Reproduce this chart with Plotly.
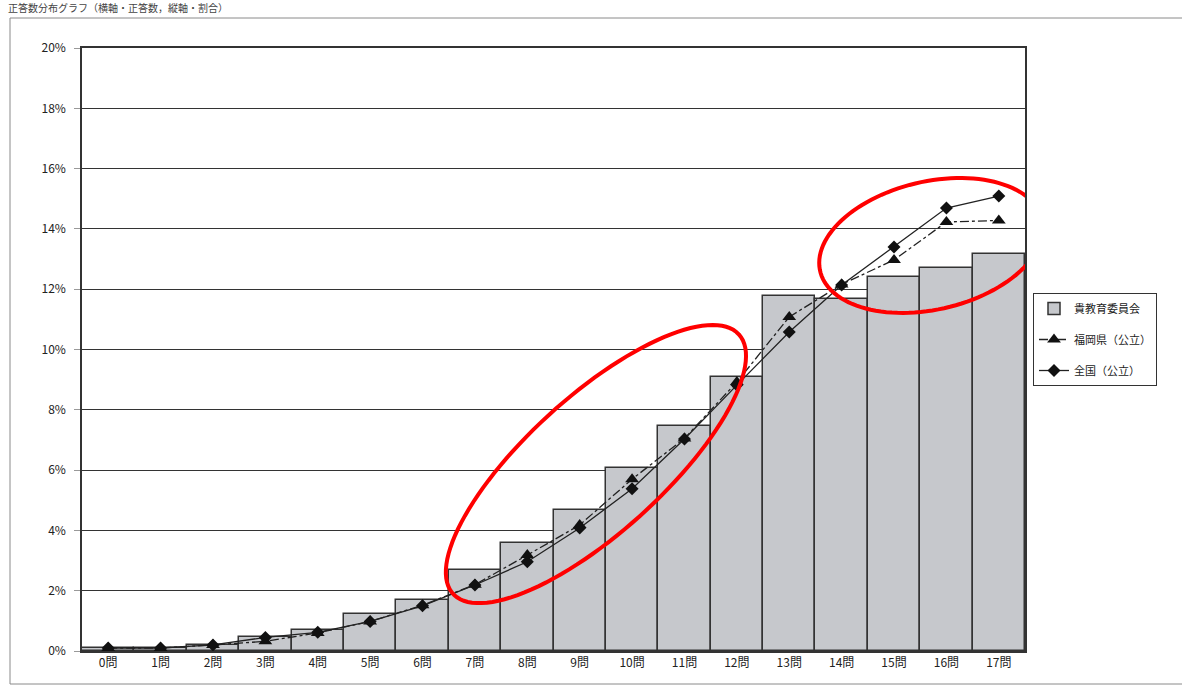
import numpy as np
import plotly.graph_objects as go

# Number of correct answers (0..17) and share of students (%)
questions = [f"{i}問" for i in range(18)]
board = [0.10, 0.10, 0.20, 0.46, 0.70, 1.23, 1.68, 2.69, 3.58, 4.68,
         6.07, 7.46, 9.09, 11.77, 11.67, 12.40, 12.70, 13.17]
fukuoka = [0.10, 0.10, 0.20, 0.32, 0.60, 0.98, 1.52, 2.20, 3.18, 4.18,
           5.70, 7.05, 8.92, 11.08, 12.16, 12.97, 14.23, 14.28]
national = [0.10, 0.10, 0.20, 0.45, 0.62, 0.98, 1.50, 2.19, 2.96, 4.08,
            5.38, 7.03, 8.82, 10.58, 12.14, 13.40, 14.69, 15.09]
y_ticks = list(range(0, 21, 2))
y_labels = [f"{v}%" for v in y_ticks]

W, H = 1182, 691
ML, MR, MT, MB = 82, 157, 48, 40
PW, PH = W - ML - MR, H - MT - MB
X_RANGE = (-0.5, 17.5)
Y_RANGE = (0, 20)
px_x = PW / (X_RANGE[1] - X_RANGE[0])
px_y = PH / (Y_RANGE[1] - Y_RANGE[0])

FONT = "Noto Sans CJK JP, Noto Sans, sans-serif"
INK = "#333333"
x = list(range(len(questions)))

fig = go.Figure()
fig.add_trace(go.Bar(
    x=x, y=board, name="貴教育委員会", legendgroup="a",
    marker=dict(color="#c6c8cc", line=dict(color=INK, width=1.5)),
))
fig.add_trace(go.Scatter(
    x=x, y=fukuoka, name="福岡県（公立）", legendgroup="b", mode="lines+markers",
    line=dict(color="#222222", width=1.3, dash="dashdot"),
    marker=dict(symbol="triangle-up", size=12, color="#111111"),
))
fig.add_trace(go.Scatter(
    x=x, y=national, name="全国（公立）", legendgroup="c", mode="lines+markers",
    line=dict(color="#222222", width=1.3),
    marker=dict(symbol="diamond", size=10, color="#111111"),
))


def ellipse_path(cx, cy, a_px, b_px, angle_deg, n=120):
    """Rotated ellipse drawn in screen space, returned in data units."""
    t = np.linspace(0, 2 * np.pi, n)
    th = np.radians(angle_deg)
    ex = a_px * np.cos(t)
    ey = b_px * np.sin(t)
    rx = ex * np.cos(th) - ey * np.sin(th)
    ry = ex * np.sin(th) + ey * np.cos(th)
    xs = cx + rx / px_x
    ys = cy + ry / px_y
    pts = [f"{xx:.4f},{yy:.4f}" for xx, yy in zip(xs, ys)]
    return "M " + " L ".join(pts) + " Z"


# highlight rings around the regions of interest
for cx, cy, a, b, ang in [(9.31, 6.20, 193, 68, 42.2), (15.71, 13.45, 114, 64, 13)]:
    fig.add_shape(type="path", path=ellipse_path(cx, cy, a, b, ang),
                  xref="x", yref="y", line=dict(color="#ff0000", width=4),
                  layer="above")

# outer page frame
fig.add_shape(type="rect", xref="paper", yref="paper",
              x0=(10 - ML) / PW, x1=(W + 20 - ML) / PW,
              y0=(MT + PH - 684) / PH, y1=(MT + PH - 18) / PH,
              line=dict(color="#8a8a8a", width=1), layer="below")

fig.add_annotation(
    text="正答数分布グラフ（横軸・正答数，縦軸・割合）",
    xref="paper", yref="paper", x=(6 - ML) / PW, y=(MT + PH - 17) / PH,
    xanchor="left", yanchor="bottom", showarrow=False,
    font=dict(family=FONT, size=10, color="#444444"),
)

fig.update_layout(
    width=W, height=H,
    margin=dict(l=ML, r=MR, t=MT, b=MB, pad=0),
    paper_bgcolor="white", plot_bgcolor="white",
    bargap=0,
    font=dict(family=FONT, size=11, color=INK),
    showlegend=True,
    legend=dict(
        x=(1033 - ML) / PW, y=(MT + PH - 293) / PH, xanchor="left", yanchor="top",
        bordercolor=INK, borderwidth=1, bgcolor="white",
        font=dict(family=FONT, size=11, color="#222222"),
        traceorder="grouped", tracegroupgap=12,
    ),
    xaxis=dict(
        range=list(X_RANGE), tickmode="array", tickvals=x, ticktext=questions,
        showgrid=False, zeroline=False, showline=True, linecolor=INK, linewidth=1.5,
        mirror=True, ticks="", tickfont=dict(size=12, color="#222222"),
    ),
    yaxis=dict(
        range=list(Y_RANGE), tickmode="array", tickvals=y_ticks, ticktext=y_labels,
        showgrid=True, gridcolor=INK, gridwidth=1.3, zeroline=False,
        showline=True, linecolor=INK, linewidth=1.5, mirror=True,
        ticks="outside", ticklen=6, tickcolor="#999999", ticklabelstandoff=6,
        tickfont=dict(size=12, color="#222222"),
    ),
)

fig.write_html("out.html")
